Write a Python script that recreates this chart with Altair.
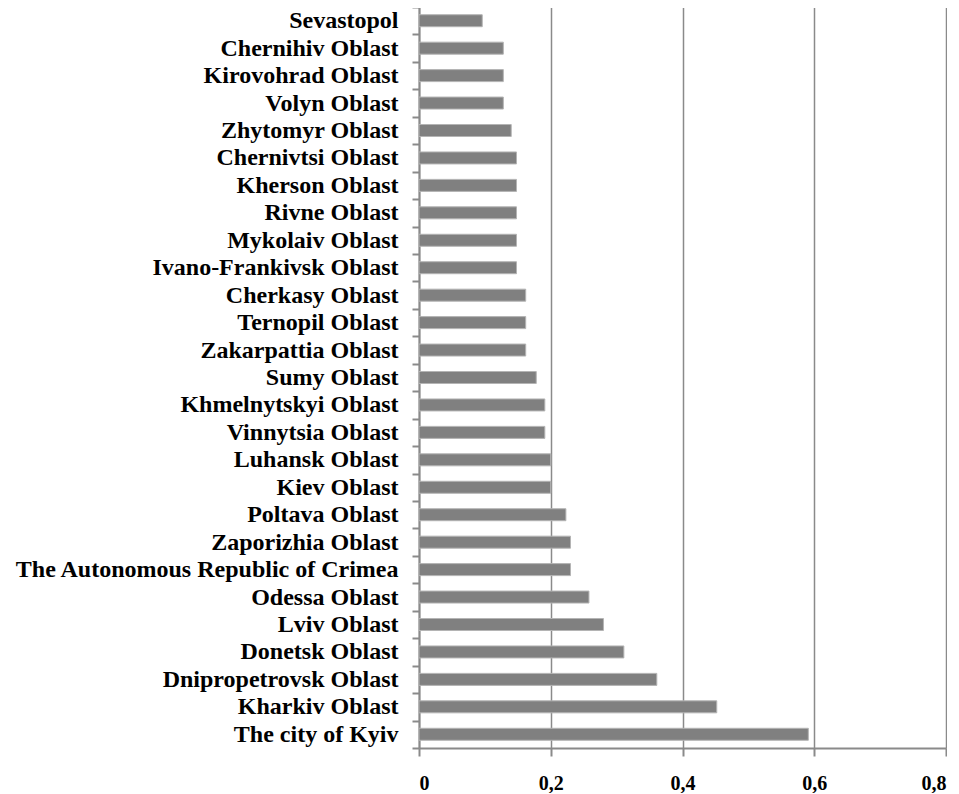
import altair as alt
import pandas as pd

regions = [
    "Sevastopol", "Chernihiv Oblast", "Kirovohrad Oblast", "Volyn Oblast",
    "Zhytomyr Oblast", "Chernivtsi Oblast", "Kherson Oblast", "Rivne Oblast",
    "Mykolaiv Oblast", "Ivano-Frankivsk Oblast", "Cherkasy Oblast",
    "Ternopil Oblast", "Zakarpattia Oblast", "Sumy Oblast",
    "Khmelnytskyi Oblast", "Vinnytsia Oblast", "Luhansk Oblast", "Kiev Oblast",
    "Poltava Oblast", "Zaporizhia Oblast", "The Autonomous Republic of Crimea",
    "Odessa Oblast", "Lviv Oblast", "Donetsk Oblast", "Dnipropetrovsk Oblast",
    "Kharkiv Oblast", "The city of Kyiv",
]
values = [
    0.096, 0.128, 0.128, 0.128, 0.140, 0.148, 0.148, 0.148, 0.148, 0.148,
    0.162, 0.162, 0.162, 0.178, 0.191, 0.191, 0.200, 0.200, 0.223, 0.230,
    0.230, 0.258, 0.280, 0.311, 0.361, 0.452, 0.591,
]
x_ticks = [0, 0.2, 0.4, 0.6, 0.8]

df = pd.DataFrame({"region": regions, "value": values})

chart = (
    alt.Chart(df)
    .mark_bar(size=12, color="#808080", stroke="#b4b4b4", strokeWidth=1)
    .encode(
        x=alt.X(
            "value:Q",
            scale=alt.Scale(domain=[0, 0.8], nice=False),
            axis=alt.Axis(
                values=x_ticks,
                title=None,
                grid=True,
                gridColor="#8a8a8a",
                gridWidth=1.5,
                domainColor="#8a8a8a",
                domainWidth=2,
                tickColor="#8a8a8a",
                tickWidth=2,
                tickSize=8,
                labelPadding=17,
                labelFont="Liberation Serif",
                labelFontWeight="bold",
                labelFontSize=20,
                labelColor="#000000",
                labelExpr="datum.value == 0 ? '0' : replace(format(datum.value, '.1f'), '.', ',')",
            ),
        ),
        y=alt.Y(
            "region:N",
            sort=None,
            scale=alt.Scale(paddingInner=0, paddingOuter=0),
            axis=alt.Axis(
                title=None,
                grid=False,
                domainColor="#8a8a8a",
                domainWidth=2,
                tickColor="#8a8a8a",
                tickWidth=2,
                tickSize=7,
                tickBand="extent",
                labelPadding=14,
                labelFont="Liberation Serif",
                labelFontWeight="bold",
                labelFontSize=24,
                labelColor="#000000",
                labelLimit=420,
                minExtent=411,
                maxExtent=411,
            ),
        ),
    )
    .properties(width=527, height=741, padding={"left": 0, "top": -13, "right": 0, "bottom": 0})
    .configure_view(stroke=None)
    .configure(background="#ffffff")
)

chart.save("out.html", embed_options={"renderer": "svg", "actions": False})
